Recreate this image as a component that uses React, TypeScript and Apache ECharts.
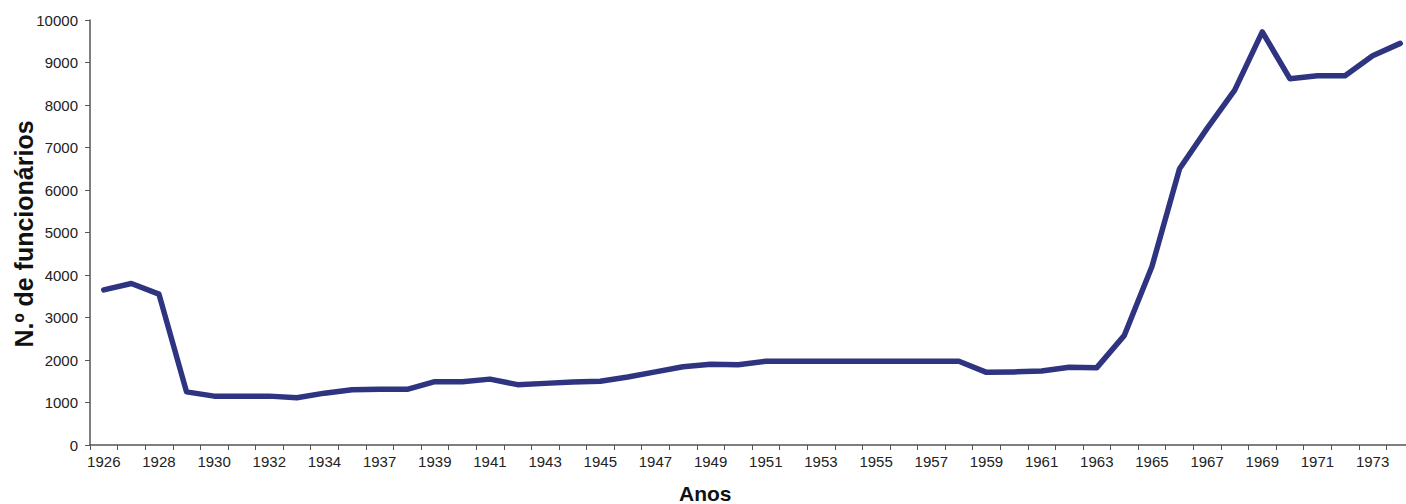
import React, { useEffect, useRef } from "react";
import * as echarts from "echarts";

const years = [
  "1926", "1927", "1928", "1929", "1930", "1931", "1932", "1933", "1934", "1935",
  "1937", "1938", "1939", "1940", "1941", "1942", "1943", "1944", "1945", "1946",
  "1947", "1948", "1949", "1950", "1951", "1952", "1953", "1954", "1955", "1956",
  "1957", "1958", "1959", "1960", "1961", "1962", "1963", "1964", "1965", "1966",
  "1967", "1968", "1969", "1970", "1971", "1972", "1973", "1974",
];

const employees = [
  3650, 3800, 3550, 1250, 1150, 1150, 1150, 1110, 1220, 1300,
  1310, 1310, 1490, 1490, 1550, 1420, 1450, 1480, 1500, 1600,
  1720, 1840, 1900, 1890, 1970, 1970, 1970, 1970, 1970, 1970,
  1970, 1970, 1710, 1720, 1740, 1830, 1820, 2580, 4200, 6500,
  7450, 8350, 9720, 8620, 8690, 8690, 9160, 9450,
];

const yAxisTitle = "N.º de funcionários";
const xAxisTitle = "Anos";

export default function App() {
  const ref = useRef<HTMLDivElement>(null);
  useEffect(() => {
    if (!ref.current) return;
    const chart = echarts.init(ref.current, null, { renderer: "svg" });
    const font = "'Liberation Sans', Arial, sans-serif";
    chart.setOption({
      animation: false,
      backgroundColor: "#ffffff",
      grid: { left: 90, top: 20, width: 1324, height: 425, containLabel: false, outerBoundsMode: "none" },
      xAxis: {
        type: "category",
        data: years,
        boundaryGap: true,
        axisLine: { lineStyle: { color: "#555", width: 1.5 } },
        axisTick: { show: true, interval: 0, length: 5, lineStyle: { color: "#555" } },
        axisLabel: { interval: 1, color: "#222", fontSize: 15, fontFamily: font, margin: 9 },
        splitLine: { show: false },
      },
      yAxis: {
        type: "value",
        min: 0,
        max: 10000,
        interval: 1000,
        axisLine: { show: true, lineStyle: { color: "#555", width: 1.5 } },
        axisTick: { show: true, length: 5, lineStyle: { color: "#555" } },
        axisLabel: {
          color: "#222",
          fontSize: 15,
          fontFamily: font,
          margin: 12,
          formatter: (v: number) => String(v),
        },
        splitLine: { show: false },
      },
      graphic: [
        {
          type: "text",
          x: 24,
          y: 234,
          rotation: Math.PI / 2,
          style: {
            text: yAxisTitle,
            fontSize: 25,
            fontWeight: "bold",
            fill: "#111",
            fontFamily: font,
            align: "center",
            verticalAlign: "middle",
          },
        },
        {
          type: "text",
          left: 679,
          top: 483,
          style: { text: xAxisTitle, fontSize: 21, fontWeight: "bold", fill: "#111", fontFamily: font },
        },
      ],
      series: [
        {
          type: "line",
          data: employees,
          symbol: "none",
          lineStyle: { color: "#2e3480", width: 5.5, cap: "round", join: "round" },
        },
      ],
    });
    return () => chart.dispose();
  }, []);
  return (
    <div
      ref={ref}
      style={{ position: "fixed", left: 0, top: 0, width: 1406, height: 504, background: "#fff" }}
    />
  );
}
